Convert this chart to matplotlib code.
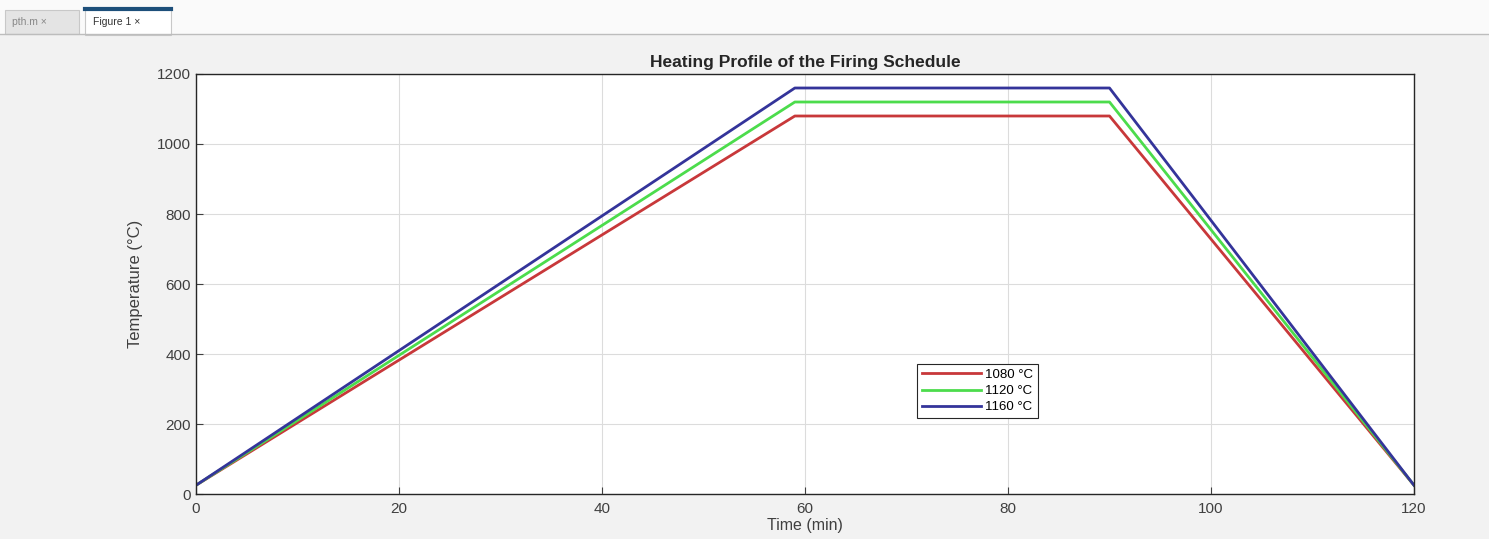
import matplotlib.pyplot as plt
from matplotlib.patches import Rectangle
from matplotlib.lines import Line2D

plt.rcParams['font.family'] = ['Liberation Sans', 'DejaVu Sans']

# firing schedule: start, end of ramp, end of soak, end of cooling
time_min = [0, 59, 90, 120]
start_temp = 25
peak_temps = [1080, 1120, 1160]
labels = ['1080 °C', '1120 °C', '1160 °C']
colors = ['#c8383a', '#4cdc4c', '#34349a']

fig = plt.figure(figsize=(14.89, 5.39), dpi=100, facecolor='#f2f2f2')

# MATLAB-like tab strip at the top
fig.patches.append(Rectangle((0, 1 - 35 / 539), 1, 35 / 539, transform=fig.transFigure,
                             facecolor='#fafafa', edgecolor='none', zorder=0))
fig.add_artist(Line2D([0, 1], [1 - 34 / 539] * 2, transform=fig.transFigure, color='#bdbdbd', lw=1))
fig.patches.append(Rectangle((5 / 1489, 1 - 34 / 539), 74 / 1489, 24 / 539, transform=fig.transFigure,
                             facecolor='#e4e4e4', edgecolor='#c8c8c8', lw=0.8))
fig.patches.append(Rectangle((85 / 1489, 1 - 35 / 539), 86 / 1489, 27 / 539, transform=fig.transFigure,
                             facecolor='#ffffff', edgecolor='#c8c8c8', lw=0.8))
fig.add_artist(Line2D([85 / 1489, 171 / 1489], [1 - 9 / 539] * 2, transform=fig.transFigure,
                      color='#1d4f7a', lw=3))
fig.text(12 / 1489, 1 - 22 / 539, 'pth.m ×', fontsize=7.5, color='#888888', va='center')
fig.text(93 / 1489, 1 - 22 / 539, 'Figure 1 ×', fontsize=7.5, color='#333333', va='center')

ax = fig.add_axes([196 / 1489, 1 - 494 / 539, 1218 / 1489, 420 / 539])
for peak, lab, c in zip(peak_temps, labels, colors):
    temps = [start_temp, peak, peak, start_temp]
    ax.plot(time_min, temps, color=c, lw=2.0, label=lab)

ax.set_xlim(0, 120)
ax.set_ylim(0, 1200)
ax.set_xticks(range(0, 121, 20))
ax.set_yticks(range(0, 1201, 200))
ax.grid(True, color='#dcdcdc', lw=0.8)
ax.tick_params(direction='in', labelsize=11, colors='#404040', length=5)
ax.tick_params(axis='x', pad=6)
for s in ax.spines.values():
    s.set_color('#262626')
    s.set_linewidth(1.0)
ax.set_title('Heating Profile of the Firing Schedule', fontsize=12.5, fontweight='bold',
             color='#262626', pad=5)
ax.set_xlabel('Time (min)', fontsize=11.5, color='#404040', labelpad=1)
ax.set_ylabel('Temperature (°C)', fontsize=12, color='#404040', labelpad=10)

leg = ax.legend(loc='lower left', bbox_to_anchor=(0.592, 0.181), fontsize=9.5, fancybox=False,
                framealpha=1, edgecolor='#262626', handlelength=4.5, borderpad=0.35,
                labelspacing=0.3, handletextpad=0.3, borderaxespad=0)
leg.get_frame().set_linewidth(0.8)

fig.savefig('out.png', dpi=100, facecolor=fig.get_facecolor())
